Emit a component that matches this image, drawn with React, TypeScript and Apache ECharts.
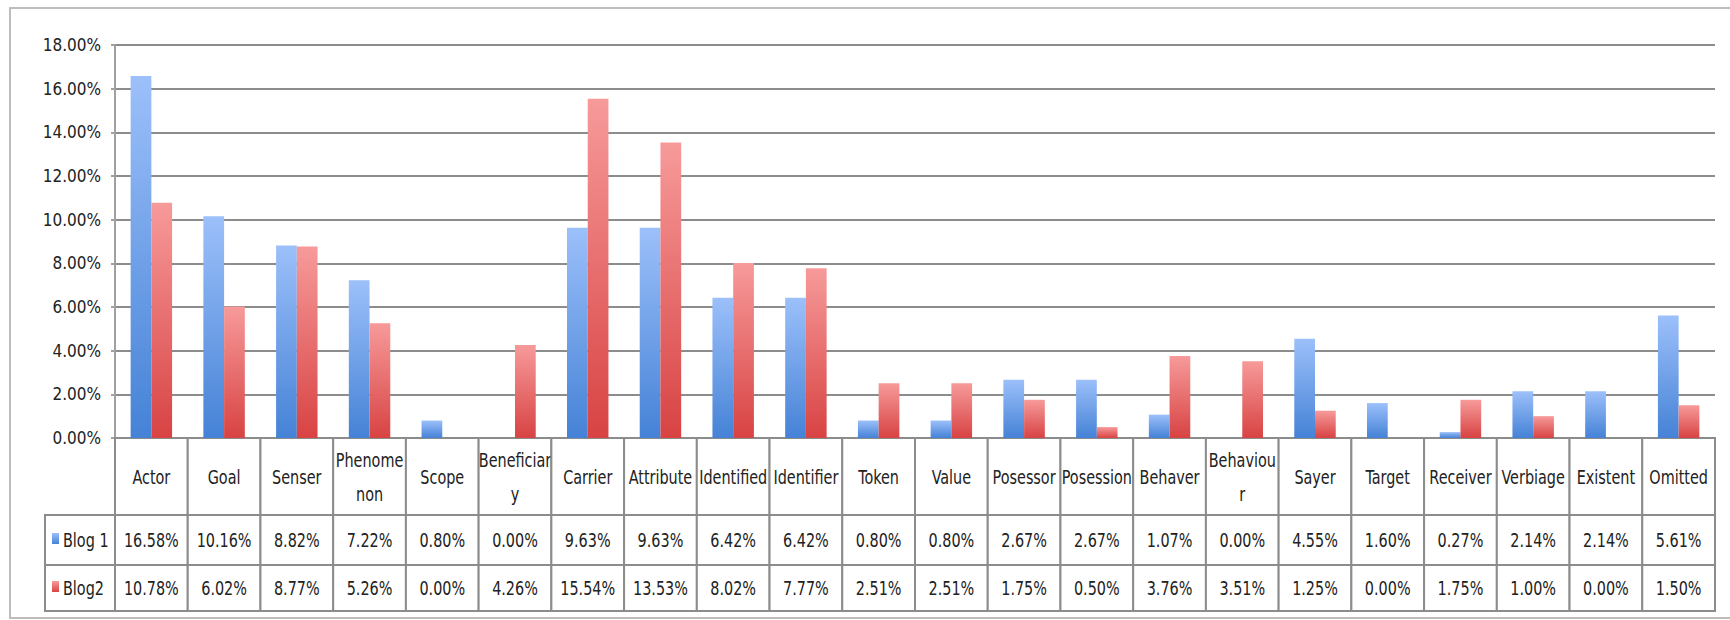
import React, { useEffect, useRef } from 'react';
import * as echarts from 'echarts';

const categories = ['Actor', 'Goal', 'Senser', 'Phenome\nnon', 'Scope', 'Beneficiar\ny', 'Carrier', 'Attribute', 'Identified', 'Identifier', 'Token', 'Value', 'Posessor', 'Posession', 'Behaver', 'Behaviou\nr', 'Sayer', 'Target', 'Receiver', 'Verbiage', 'Existent', 'Omitted'];
const blog1 = [16.58, 10.16, 8.82, 7.22, 0.8, 0.0, 9.63, 9.63, 6.42, 6.42, 0.8, 0.8, 2.67, 2.67, 1.07, 0.0, 4.55, 1.6, 0.27, 2.14, 2.14, 5.61];
const blog2 = [10.78, 6.02, 8.77, 5.26, 0.0, 4.26, 15.54, 13.53, 8.02, 7.77, 2.51, 2.51, 1.75, 0.5, 3.76, 3.51, 1.25, 0.0, 1.75, 1.0, 0.0, 1.5];
const seriesNames = ['Blog 1', 'Blog2'];
const yMin = 0;
const yMax = 18;
const yInterval = 2;

const FONT = "'Liberation Sans Narrow', 'DejaVu Sans Condensed', 'Liberation Sans', sans-serif";
const TEXT_COLOR = '#222222';
const LINE_COLOR = '#8c8c8c';

const blueGrad = () =>
  new echarts.graphic.LinearGradient(0, 0, 0, 1, [
    { offset: 0, color: '#9cc0fa' },
    { offset: 1, color: '#4582d6' },
  ]);
const redGrad = () =>
  new echarts.graphic.LinearGradient(0, 0, 0, 1, [
    { offset: 0, color: '#f79a9a' },
    { offset: 1, color: '#d84343' },
  ]);

const fmt = (v: number) => v.toFixed(2) + '%';

function makeRowRenderer(rowTexts: string[], legendName: string | null, legendColor: any) {
  return (params: any, api: any) => {
    const idx = api.value(0);
    const pt = api.coord([idx, 0.5]);
    const w = api.size([1, 0])[0];
    const cs = params.coordSys;
    const x0 = pt[0] - w / 2;
    const children: any[] = [
      {
        type: 'rect',
        shape: { x: x0, y: cs.y, width: w, height: cs.height },
        style: { fill: '#ffffff', stroke: LINE_COLOR, lineWidth: 2 },
      },
      {
        type: 'text',
        x: pt[0],
        y: cs.y + cs.height / 2,
        scaleY: 1.25,
        style: {
          text: rowTexts[params.dataIndex],
          align: 'center',
          verticalAlign: 'middle',
          fill: TEXT_COLOR,
          font: `16px ${FONT}`,
          lineHeight: 27,
        },
      },
    ];
    if (params.dataIndex === 0 && legendName) {
      children.push(
        {
          type: 'rect',
          shape: { x: cs.x - 70, y: cs.y, width: 70, height: cs.height },
          style: { fill: '#ffffff', stroke: LINE_COLOR, lineWidth: 2 },
        },
        {
          type: 'rect',
          shape: { x: cs.x - 63, y: cs.y + cs.height / 2 - 7, width: 7, height: 11 },
          style: { fill: legendColor },
        },
        {
          type: 'text',
          x: cs.x - 52,
          y: cs.y + cs.height / 2,
          scaleY: 1.25,
          style: {
            text: legendName,
            align: 'left',
            verticalAlign: 'middle',
            fill: TEXT_COLOR,
            font: `16px ${FONT}`,
          },
        }
      );
    }
    return { type: 'group', children };
  };
}

export default function App() {
  const ref = useRef<HTMLDivElement>(null);

  useEffect(() => {
    if (!ref.current) return;
    const chart = echarts.init(ref.current, null, { renderer: 'svg' });

    const gridLeft = 115;
    const gridWidth = 1600;
    const rows = [
      { top: 438, height: 77 },
      { top: 515, height: 50 },
      { top: 565, height: 46 },
    ];
    const rowTexts = [categories, blog1.map(fmt), blog2.map(fmt)];
    const legendNames = [null, seriesNames[0], seriesNames[1]];
    const legendColors = [null, blueGrad(), redGrad()];

    const option: any = {
      animation: false,
      backgroundColor: '#ffffff',
      graphic: [
        {
          type: 'rect',
          shape: { x: 10, y: 8, width: 1740, height: 610 },
          style: { fill: 'none', stroke: '#bdbdbd', lineWidth: 2 },
          silent: true,
          z: -10,
        },
      ],
      grid: [
        { left: gridLeft, top: 45, width: gridWidth, height: 393 },
        ...rows.map((r) => ({ left: gridLeft, top: r.top, width: gridWidth, height: r.height })),
      ],
      xAxis: [
        {
          type: 'category',
          gridIndex: 0,
          data: categories,
          axisLine: { show: true, lineStyle: { color: LINE_COLOR, width: 2 } },
          axisTick: { show: false },
          axisLabel: { show: false },
        },
        ...rows.map((_, i) => ({
          type: 'category',
          gridIndex: i + 1,
          data: categories,
          show: false,
        })),
      ],
      yAxis: [
        {
          type: 'value',
          gridIndex: 0,
          min: yMin,
          max: yMax,
          interval: yInterval,
          axisLine: { show: true, lineStyle: { color: '#a0a0a0', width: 2 } },
          axisTick: { show: true, length: 4, lineStyle: { color: '#a0a0a0', width: 2 } },
          splitLine: { show: true, lineStyle: { color: LINE_COLOR, width: 2 } },
          axisLabel: {
            formatter: (v: number) => v.toFixed(2) + '%',
            color: TEXT_COLOR,
            fontSize: 17,
            fontFamily: FONT,
            margin: 14,
          },
        },
        ...rows.map((_, i) => ({
          type: 'value',
          gridIndex: i + 1,
          min: 0,
          max: 1,
          show: false,
        })),
      ],
      series: [
        {
          name: seriesNames[0],
          type: 'bar',
          xAxisIndex: 0,
          yAxisIndex: 0,
          data: blog1,
          barGap: '0%',
          barCategoryGap: '43%',
          itemStyle: { color: blueGrad() },
        },
        {
          name: seriesNames[1],
          type: 'bar',
          xAxisIndex: 0,
          yAxisIndex: 0,
          data: blog2,
          barGap: '0%',
          barCategoryGap: '43%',
          itemStyle: { color: redGrad() },
        },
        ...rows.map((_, i) => ({
          type: 'custom',
          xAxisIndex: i + 1,
          yAxisIndex: i + 1,
          data: categories.map((_, k) => [k, 0.5]),
          renderItem: makeRowRenderer(rowTexts[i], legendNames[i], legendColors[i]),
          clip: false,
          silent: true,
        })),
      ],
    };

    chart.setOption(option);
    return () => chart.dispose();
  }, []);

  return (
    <div
      ref={ref}
      style={{ position: 'absolute', left: 0, top: 0, width: 1730, height: 620, background: '#fff' }}
    />
  );
}
